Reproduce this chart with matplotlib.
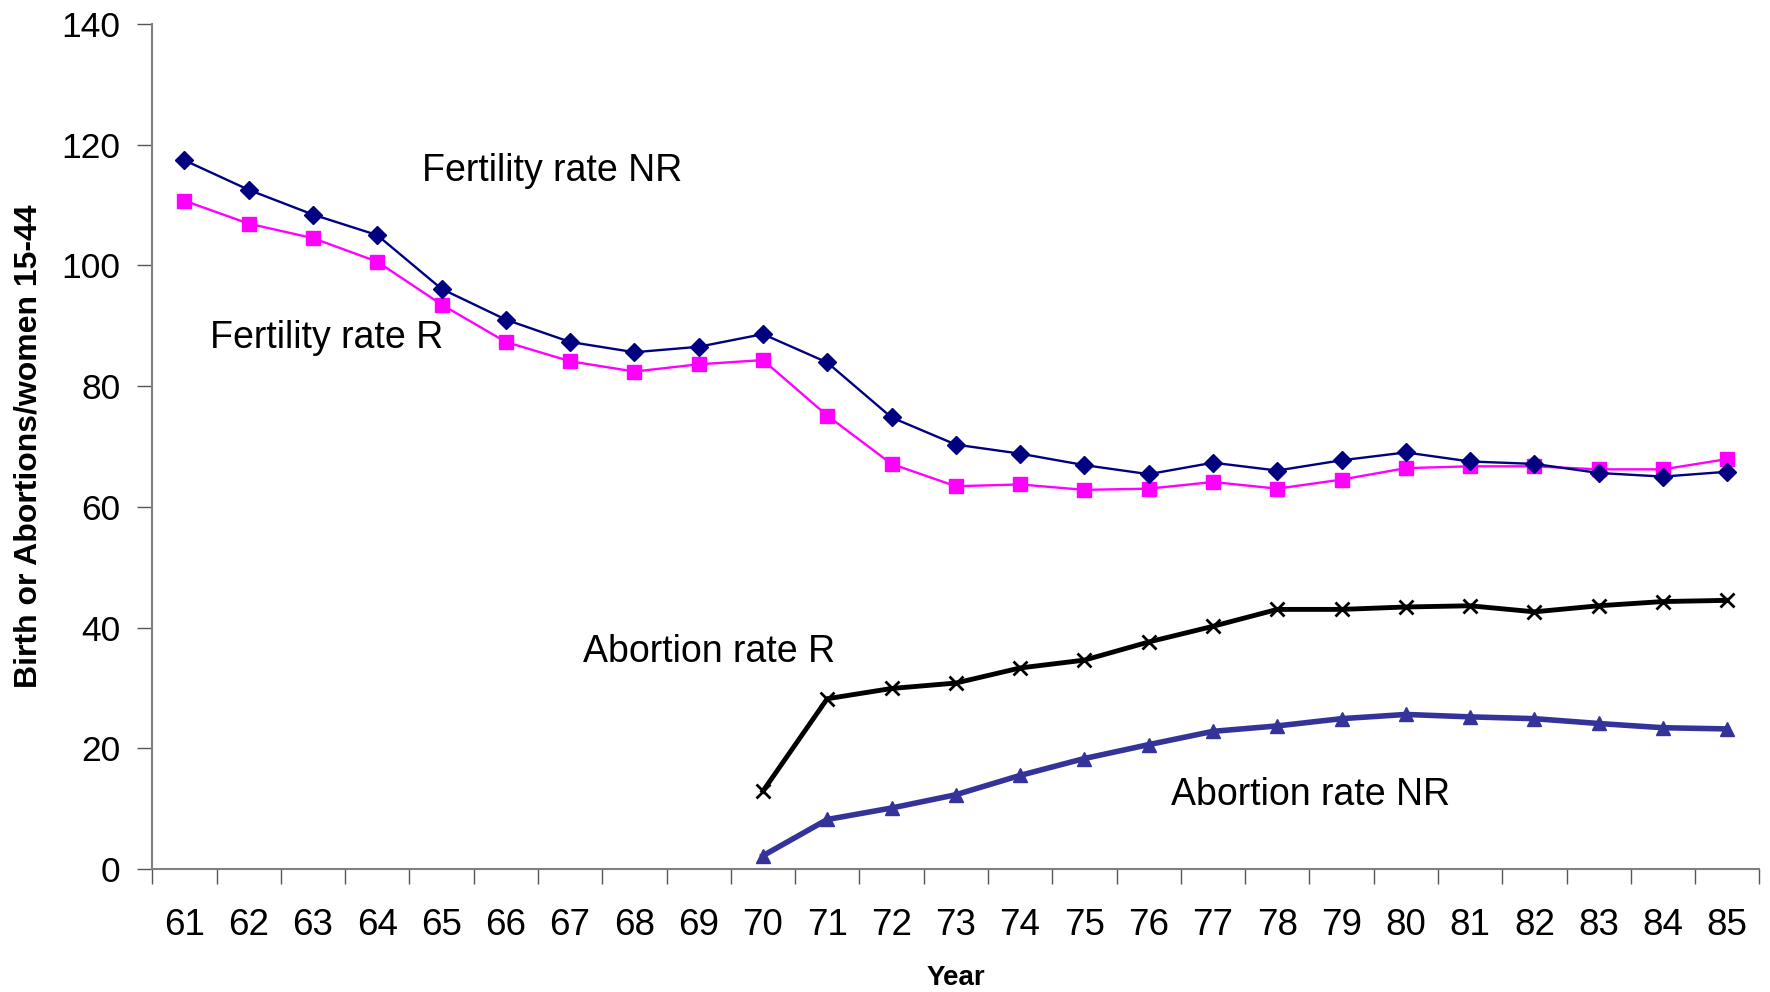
import numpy as np
import matplotlib
matplotlib.use('Agg')
import matplotlib.pyplot as plt

plt.rcParams['font.family'] = ['Liberation Sans', 'DejaVu Sans']

years = ['61', '62', '63', '64', '65', '66', '67', '68', '69', '70', '71', '72', '73',
         '74', '75', '76', '77', '78', '79', '80', '81', '82', '83', '84', '85']

fertility_nr = [117.4, 112.5, 108.4, 105.0, 96.1, 91.0, 87.3, 85.6, 86.5, 88.6, 83.9, 74.8, 70.3,
                68.8, 66.9, 65.4, 67.3, 66.0, 67.7, 69.0, 67.5, 67.1, 65.6, 65.0, 65.8]
fertility_r = [110.7, 106.9, 104.5, 100.6, 93.5, 87.3, 84.1, 82.4, 83.6, 84.3, 75.1, 67.1, 63.4,
               63.7, 62.8, 63.0, 64.1, 63.0, 64.5, 66.4, 66.7, 66.7, 66.2, 66.2, 67.9]
# abortion series start in 1970
abortion_years = years[9:]
abortion_r = [12.9, 28.2, 29.9, 30.8, 33.3, 34.6, 37.6, 40.2, 43.0, 43.0, 43.4, 43.6, 42.6,
              43.6, 44.3, 44.5]
abortion_nr = [2.2, 8.2, 10.1, 12.3, 15.5, 18.3, 20.6, 22.8, 23.7, 24.9, 25.6, 25.2, 24.9,
               24.1, 23.4, 23.2]

fig = plt.figure(figsize=(17.7, 9.92), dpi=100)
ax = fig.add_axes([0.086, 0.124, 0.908, 0.852])

x = np.arange(len(years))
xa = np.arange(len(years) - len(abortion_years), len(years))

ax.plot(x, fertility_nr, color='#000080', lw=1.7, marker='D', ms=9, zorder=4)
ax.plot(x, fertility_r, color='#FF00FF', lw=1.7, marker='s', ms=10.5, zorder=3)
ax.plot(xa, abortion_r, color='black', lw=3.5, marker='x', ms=10, mew=2, zorder=3)
ax.plot(xa, abortion_nr, color='#333399', lw=4, marker='^', ms=10, zorder=3)

fs = 27
ax.text(3.7, 115.7, 'Fertility rate NR', fontsize=fs, va='center')
ax.text(0.4, 88.0, 'Fertility rate R', fontsize=fs, va='center')
ax.text(6.2, 36.0, 'Abortion rate R', fontsize=fs, va='center')
ax.text(15.35, 12.3, 'Abortion rate NR', fontsize=fs, va='center')

ax.set_xlim(-0.5, len(years) - 0.5)
ax.set_ylim(0, 140)
ax.set_yticks(range(0, 141, 20))
ax.set_xticks(x)
ax.set_xticklabels(years)
ax.set_xticks(np.arange(-0.5, len(years), 1), minor=True)
ax.tick_params(axis='x', which='major', length=0, labelsize=26.5, pad=28)
ax.tick_params(axis='x', which='minor', length=11, width=1, color='#555555', direction='out')
ax.tick_params(axis='y', length=11, width=1, color='#555555', labelsize=25.5, pad=12)

for s in ['top', 'right']:
    ax.spines[s].set_visible(False)
ax.spines['left'].set_color('#808080')
ax.spines['bottom'].set_color('#808080')
ax.spines['left'].set_linewidth(1.5)
ax.spines['bottom'].set_linewidth(1.5)

ax.set_ylabel('Birth or Abortions/women 15-44', fontsize=23, fontweight='bold', labelpad=13)
ax.set_xlabel('Year', fontsize=20, fontweight='bold', labelpad=16)

fig.savefig('out.png', dpi=100)
